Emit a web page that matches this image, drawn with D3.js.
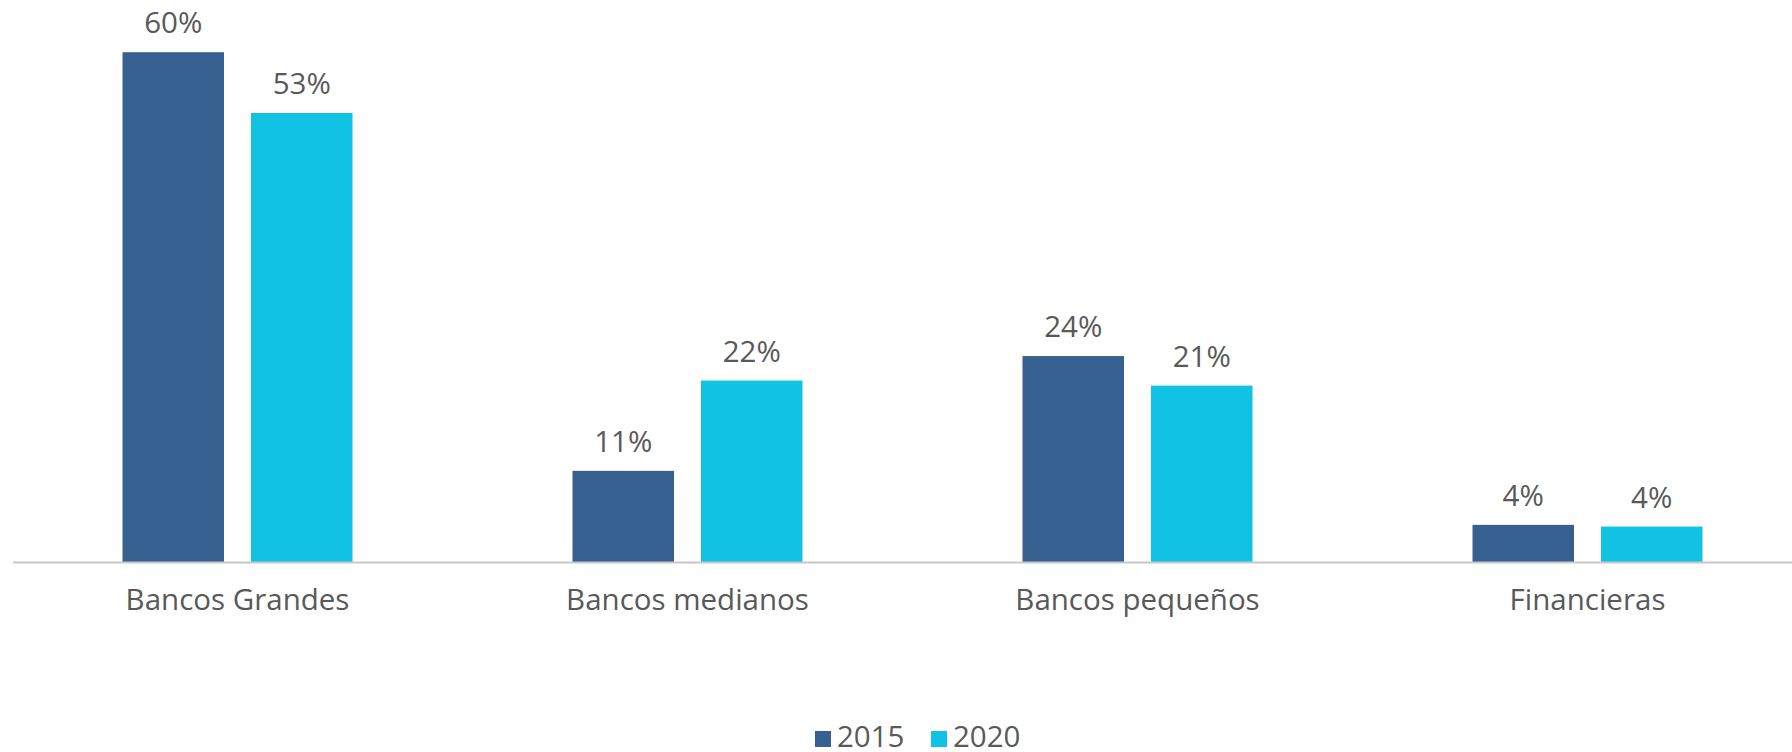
<!DOCTYPE html>
<html lang="es">
<head>
  <meta charset="UTF-8">
  <title>Bancos 2015 vs 2020</title>
  <style>
    body { margin: 0; background: #fff; }
    svg { display: block; font-family: "Open Sans", Lato, sans-serif; }
  </style>
</head>
<body>
  <div id="bar-chart"></div>

  <script src="https://d3js.org/d3.v7.min.js"></script>
  <script>
    // data
    const categories = ["Bancos Grandes", "Bancos medianos", "Bancos pequeños", "Financieras"];
    const years = ["2015", "2020"];
    const values2015 = [60.4, 10.8, 24.4, 4.4];
    const values2020 = [53.2, 21.5, 20.9, 4.2];

    const width = 1792,
          height = 752,
          baseY = 562,
          fontSize = "29.5px";

    const color = d3.scaleOrdinal(years, ["#36608f", "#12c2e4"]);
    const textColor = "#595959";

    const data = categories.map((c, i) => ({cat: c, "2015": values2015[i], "2020": values2020[i]}));

    const svg = d3.select("#bar-chart")
      .append("svg")
      .attr("width", width)
      .attr("height", height)
      .attr("viewBox", [0, 0, width, height]);

    let x = d3.scaleBand(categories, [12.5, 1812.5]);
    let x1 = d3.scaleBand(years, [110, 340]).paddingInner(0.21);
    let y = d3.scaleLinear([0, 65], [baseY, baseY - 65 * 8.44]);

    // bars
    const groups = svg.append("g")
      .selectAll("g")
      .data(data)
      .join("g")
      .attr("transform", d => `translate(${x(d.cat)},0)`);

    groups.selectAll("rect")
      .data(d => years.map(k => ({key: k, value: d[k]})))
      .join("rect")
      .attr("x", d => x1(d.key))
      .attr("y", d => y(d.value))
      .attr("width", x1.bandwidth())
      .attr("height", d => y(0) - y(d.value))
      .attr("fill", d => color(d.key));

    // value labels
    groups.selectAll("text")
      .data(d => years.map(k => ({key: k, value: d[k]})))
      .join("text")
      .attr("x", d => x1(d.key) + x1.bandwidth() / 2)
      .attr("y", d => y(d.value) - 19)
      .attr("text-anchor", "middle")
      .attr("fill", textColor)
      .style("font-size", fontSize)
      .text(d => Math.round(d.value) + "%");

    // x axis
    const xAxis = svg.append("g")
      .attr("transform", `translate(0,${baseY})`)
      .call(d3.axisBottom(x).tickSize(0).tickSizeOuter(0));

    xAxis.select(".domain")
      .attr("stroke", "#c8c8c8")
      .attr("stroke-width", 2);

    xAxis.selectAll("text")
      .attr("y", 48)
      .attr("dy", null)
      .attr("fill", textColor)
      .style("font-family", "'Open Sans', Lato, sans-serif")
      .style("font-size", fontSize);

    // legend
    const legendX = [815, 931];
    let legendGroup = svg.selectAll(".legend-group")
      .data(years)
      .join("g")
      .attr("class", "legend-group");

    legendGroup.append("rect")
      .attr("x", (d, i) => legendX[i])
      .attr("y", 731)
      .attr("width", 16)
      .attr("height", 16)
      .attr("fill", d => color(d));

    legendGroup.append("text")
      .attr("x", (d, i) => legendX[i] + 22)
      .attr("y", 747)
      .attr("fill", textColor)
      .style("font-size", fontSize)
      .text(d => d);
  </script>
</body>
</html>
